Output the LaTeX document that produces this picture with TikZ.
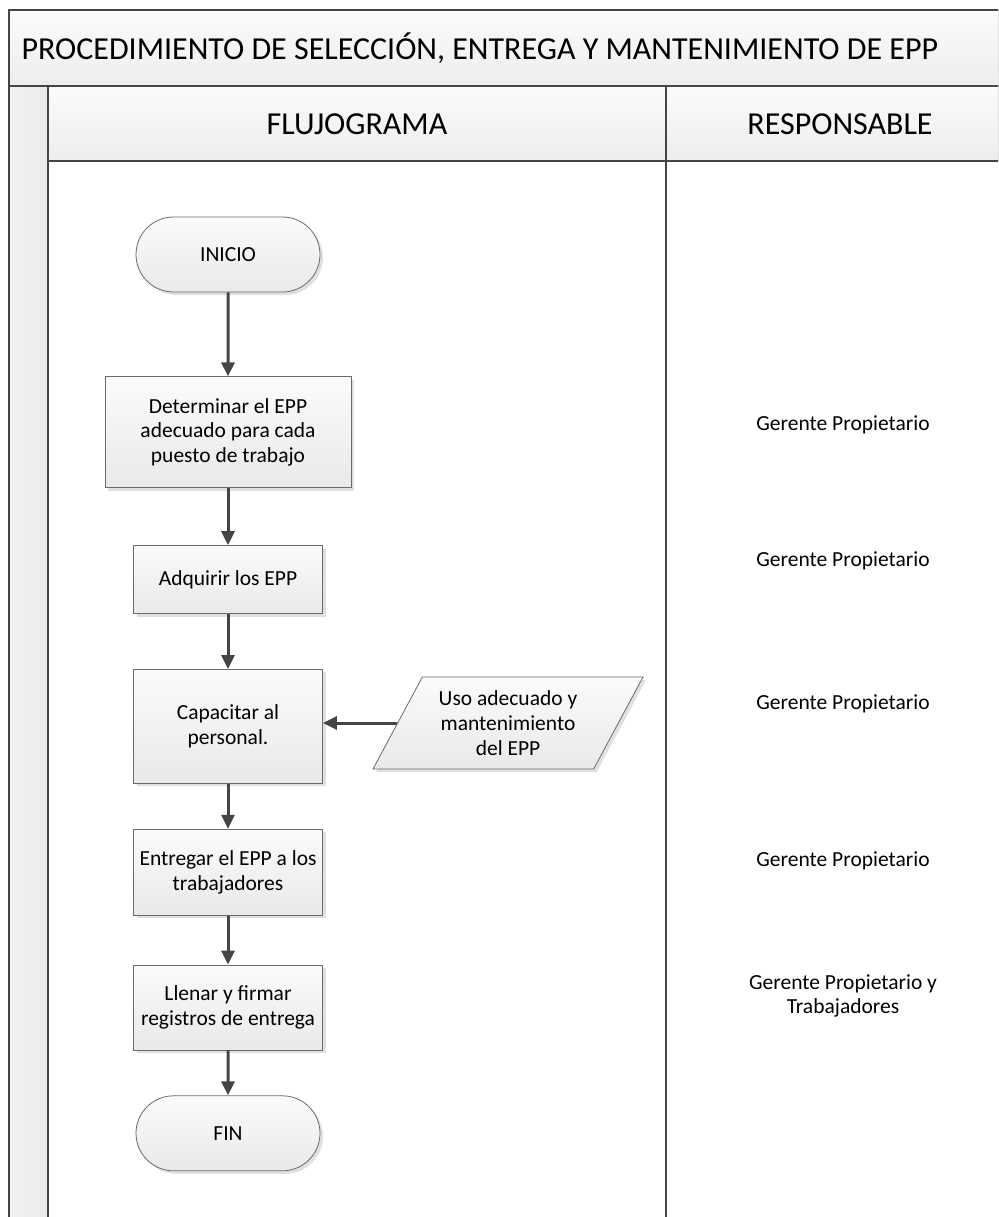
\documentclass[tikz,border=0pt]{standalone}
\usepackage{fontspec}
\setmainfont{Carlito}
\usetikzlibrary{positioning,arrows.meta,shapes.misc,shapes.geometric,shadows}
\definecolor{cLine}{HTML}{454545}
\definecolor{cEdge}{HTML}{6A6A6A}
\definecolor{cTop}{HTML}{FBFBFB}
\definecolor{cBot}{HTML}{E9E9E9}

\begin{document}
\begin{tikzpicture}[
    x=1pt, y=-1pt,
    font=\fontsize{21.5}{24.7}\selectfont,
    box/.style={draw=cEdge, line width=0.8pt, align=center, inner sep=3pt, top color=cTop, bottom color=cBot, drop shadow={shadow xshift=3pt, shadow yshift=-3pt, fill=black!20, opacity=.6}},
    term/.style={box, rounded rectangle, minimum width=190pt, minimum height=75pt},
    proc/.style={box, minimum width=189pt},
    dato/.style={box, trapezium, trapezium left angle=55, trapezium right angle=125, trapezium stretches body, minimum width=270pt, minimum height=92pt},
    band/.style={top color=cTop, bottom color=white!93!black},
    frame/.style={draw=cLine, line width=2pt},
    head/.style={font=\fontsize{32}{38}\selectfont},
    resp/.style={align=center},
    arr/.style={-{Triangle[length=14pt, width=13pt]}, line width=3pt, cLine},
    node distance=45pt
]
\path[use as bounding box, clip] (0,0) rectangle (998,1217);

% bands and frame
\fill[band] (9,10) rectangle (1014,86);
\fill[band] (48,86) rectangle (1014,161);
\fill[left color=white!95!black, right color=white!92!black] (9,86) rectangle (48,1230);
\draw[frame] (1014,10) -- (9,10) -- (9,1230);
\draw[frame] (9,86) -- (1014,86);
\draw[frame] (48,86) -- (48,1230);
\draw[frame] (48,161) -- (1014,161);
\draw[frame] (666,86) -- (666,1230);

\node[head, anchor=west] (titulo) at (18,48) {PROCEDIMIENTO DE SELECCIÓN, ENTREGA Y MANTENIMIENTO DE EPP};
\node[head] (flujo) at (357,124) {FLUJOGRAMA};
\node[head] (respons) at (840,124) {RESPONSABLE};

% flujograma
\node[term] (inicio) at (228,254.5) {INICIO};
\node[proc, minimum width=246pt, minimum height=111pt, below=84pt of inicio] (determinar) {Determinar el EPP\\adecuado para cada\\puesto de trabajo};
\node[proc, minimum height=68pt, below=57pt of determinar] (adquirir) {Adquirir los EPP};
\node[proc, minimum height=114pt, below=55pt of adquirir] (capacitar) {Capacitar al\\personal.};
\node[proc, minimum height=86pt, below=of capacitar] (entregar) {Entregar el EPP a los\\trabajadores};
\node[proc, minimum height=85pt, below=49pt of entregar] (llenar) {Llenar y firmar\\registros de entrega};
\node[term, below=of llenar] (fin) {FIN};
\node[dato] (uso) at (508,723) {Uso adecuado y\\mantenimiento\\del EPP};

\draw[arr] (inicio) -- (determinar);
\draw[arr] (determinar) -- (adquirir);
\draw[arr] (adquirir) -- (capacitar);
\draw[arr] (capacitar) -- (entregar);
\draw[arr] (entregar) -- (llenar);
\draw[arr] (llenar) -- (fin);
\draw[arr] (uso.west) -- (uso.west -| capacitar.east);

% responsables
\node[resp] (r1) at (843,425) {Gerente Propietario};
\node[resp] (r2) at (843,561) {Gerente Propietario};
\node[resp] (r3) at (843,704) {Gerente Propietario};
\node[resp] (r4) at (843,861) {Gerente Propietario};
\node[resp] (r5) at (843,996) {Gerente Propietario y\\Trabajadores};
\end{tikzpicture}
\end{document}
